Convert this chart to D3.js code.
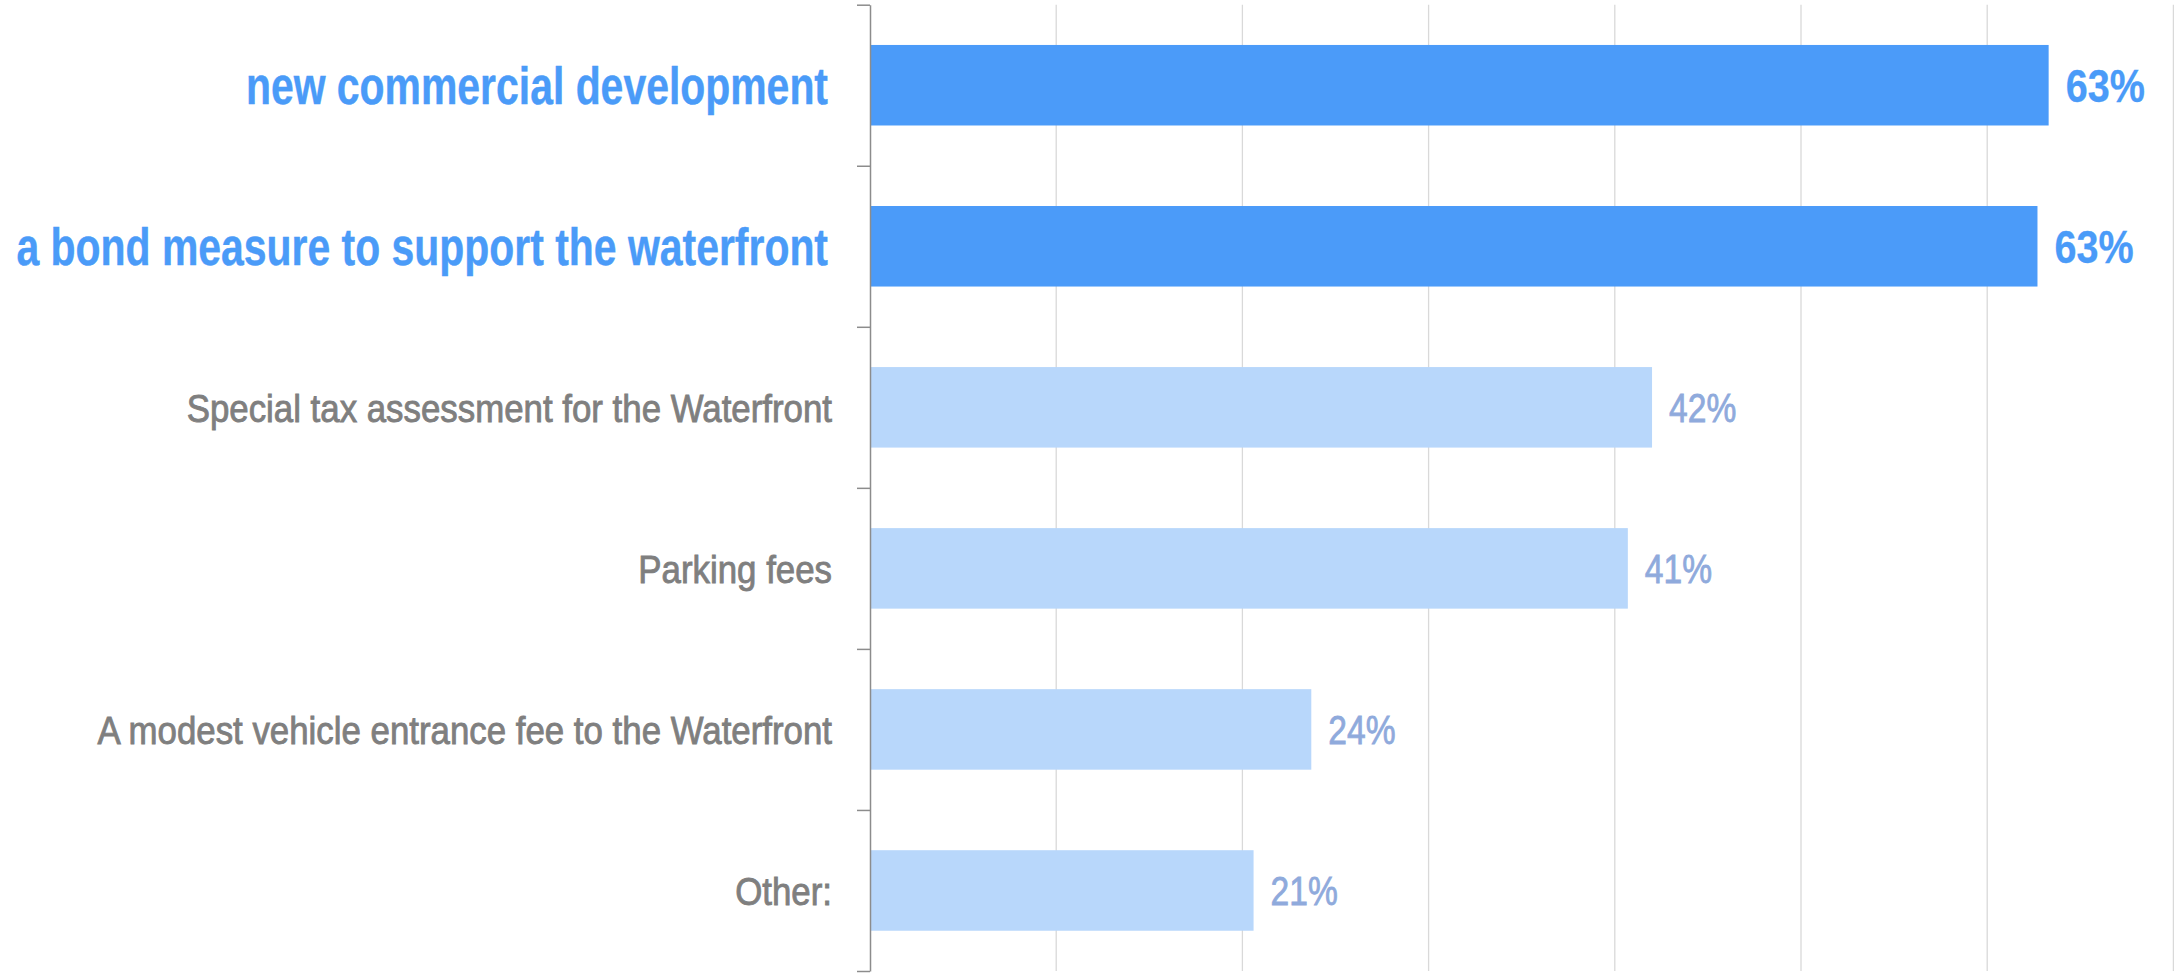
<!DOCTYPE html>
<html>
<head>
<meta charset="utf-8">
<script src="https://cdn.jsdelivr.net/npm/d3@7"></script>
<style>
  html, body { margin: 0; padding: 0; background: #fff; }
  svg { display: block; }
  text { font-family: "Liberation Sans", Arial, sans-serif; }
</style>
</head>
<body>
<div id="chart"></div>
<script>
// data
const categories = [
    "new commercial development",
    "a bond measure to support the waterfront",
    "Special tax assessment for the Waterfront",
    "Parking fees",
    "A modest vehicle entrance fee to the Waterfront",
    "Other:"
];
const values = [0.633, 0.627, 0.420, 0.407, 0.237, 0.206];
const highlighted = [true, true, false, false, false, false];
const xTicks = [0, 0.1, 0.2, 0.3, 0.4, 0.5, 0.6, 0.7];

const width = 2174, height = 973;
const margin = { top: 4.7, right: 1, bottom: 2, left: 870 };

const colors = {
    barHi: "#4b9bf9",
    barLo: "#b8d7fb",
    labelHi: "#4a9bf8",
    labelLo: "#7f7f7f",
    valueHi: "#4a9bf8",
    valueLo: "#8faadc",
    grid: "#d9d9d9",
    axis: "#8c8c8c"
};

const svg = d3.select("#chart")
    .append("svg")
    .attr("width", width)
    .attr("height", height);

const x = d3.scaleLinear()
    .domain([0, 0.7])
    .range([margin.left, width - margin.right + 0.4]);

const y = d3.scaleBand()
    .domain(categories)
    .range([margin.top, height - margin.bottom])
    .paddingInner(0.5)
    .paddingOuter(0.25);

// 网格线
svg.append("g")
    .selectAll("line")
    .data(xTicks.slice(1))
    .enter()
    .append("line")
    .attr("x1", d => x(d))
    .attr("x2", d => x(d))
    .attr("y1", margin.top)
    .attr("y2", height - margin.bottom)
    .attr("stroke", colors.grid)
    .attr("stroke-width", 1.3);

// 条形
svg.append("g")
    .selectAll("rect")
    .data(categories)
    .enter()
    .append("rect")
    .attr("x", x(0))
    .attr("y", d => y(d))
    .attr("width", (d, i) => x(values[i]) - x(0))
    .attr("height", y.bandwidth())
    .attr("fill", (d, i) => highlighted[i] ? colors.barHi : colors.barLo);

// 左轴: ticks sit on band boundaries
const yEdge = d3.scaleLinear()
    .domain([0, categories.length])
    .range([margin.top, height - margin.bottom]);

const axis = svg.append("g")
    .attr("transform", `translate(${x(0)},0)`)
    .call(d3.axisLeft(yEdge)
        .tickValues(d3.range(categories.length + 1))
        .tickSize(13)
        .tickSizeOuter(0)
        .tickFormat(""));
axis.selectAll("path, line")
    .attr("stroke", colors.axis)
    .attr("stroke-width", 1.5);

// 类别标签
const fmt = d3.format(".0%");
svg.append("g")
    .selectAll("text")
    .data(categories)
    .enter()
    .append("text")
    .attr("transform", (d, i) => {
        const sx = highlighted[i] ? 0.787 : 0.882;
        const lx = highlighted[i] ? 828 : 832;
        return `translate(${lx},${y(d) + y.bandwidth() / 2}) scale(${sx},1)`;
    })
    .attr("text-anchor", "end")
    .attr("dy", "0.36em")
    .attr("font-size", (d, i) => highlighted[i] ? 52 : 39.5)
    .attr("font-weight", (d, i) => highlighted[i] ? "bold" : "normal")
    .attr("fill", (d, i) => highlighted[i] ? colors.labelHi : colors.labelLo)
    .attr("stroke", (d, i) => highlighted[i] ? colors.labelHi : colors.labelLo)
    .attr("stroke-width", (d, i) => highlighted[i] ? 0.4 : 0.9)
    .text(d => d);

// 数值标签
svg.append("g")
    .selectAll("text")
    .data(categories)
    .enter()
    .append("text")
    .attr("transform", (d, i) => {
        const sx = highlighted[i] ? 0.86 : 0.84;
        return `translate(${x(values[i]) + 17},${y(d) + y.bandwidth() / 2}) scale(${sx},1)`;
    })
    .attr("dy", "0.36em")
    .attr("font-size", (d, i) => highlighted[i] ? 46 : 40)
    .attr("font-weight", (d, i) => highlighted[i] ? "bold" : "normal")
    .attr("fill", (d, i) => highlighted[i] ? colors.valueHi : colors.valueLo)
    .attr("stroke", (d, i) => highlighted[i] ? colors.valueHi : colors.valueLo)
    .attr("stroke-width", (d, i) => highlighted[i] ? 0.3 : 0.8)
    .text((d, i) => fmt(values[i]));
</script>
</body>
</html>
